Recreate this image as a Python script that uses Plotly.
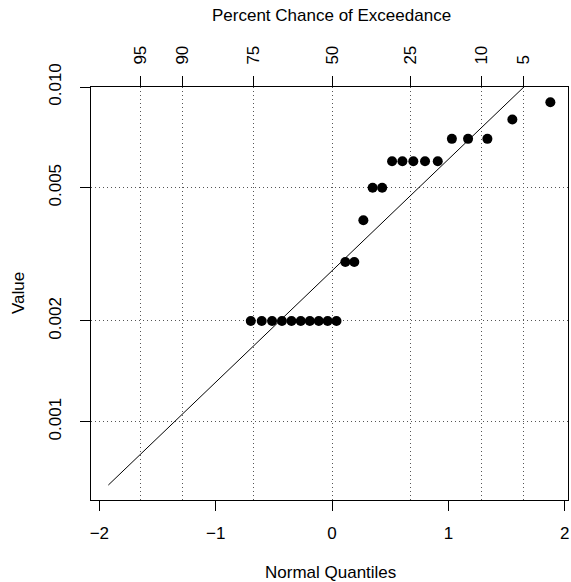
from statistics import NormalDist
import plotly.graph_objects as go

# ---- data ----
n_total = 32            # total observations (ranks 1-7 not shown)
first_rank = 8
values = [0.002, 0.002, 0.002, 0.002, 0.002, 0.002, 0.002, 0.002, 0.002, 0.002,
          0.003, 0.003, 0.004, 0.005, 0.005,
          0.006, 0.006, 0.006, 0.006, 0.006,
          0.007, 0.007, 0.007, 0.008, 0.009]
fit_mu_log10 = -2.549
fit_sigma_log10 = 0.333
fit_x_ends = [-1.923, 1.876]
exceed_pct = [95, 90, 75, 50, 25, 10, 5]
x_ticks = [-2, -1, 0, 1, 2]
x_ticktext = ["\u22122", "\u22121", "0", "1", "2"]
y_ticks = [0.001, 0.002, 0.005, 0.010]
y_ticktext = ["0.001", "0.002", "0.005", "0.010"]

nd = NormalDist()
ranks = list(range(first_rank, first_rank + len(values)))
qx = [nd.inv_cdf(r / (n_total + 1)) for r in ranks]
line_y = [10 ** (fit_mu_log10 + fit_sigma_log10 * x) for x in fit_x_ends]
exceed_x = [nd.inv_cdf(1 - p / 100) for p in exceed_pct]

FONT = "Liberation Sans, Arial, Helvetica, sans-serif"
FS = 17
W, H = 571, 582
L, R, T, B = 91, 3, 87, 82
pw, ph = W - L - R, H - T - B
xr = [-2.072, 2.028]
yr = [-3.234, -2.0]


def px_x(px):
    return (px - L) / pw


def px_y(py):
    return (H - B - py) / ph


GRID = "#555555"
DOT = "1px,3px"

fig = go.Figure()
fig.add_trace(go.Scatter(x=fit_x_ends, y=line_y, mode="lines",
                         line=dict(color="black", width=1), showlegend=False))
fig.add_trace(go.Scatter(x=qx, y=values, mode="markers",
                         marker=dict(color="black", size=10), showlegend=False))
fig.add_trace(go.Scatter(x=exceed_x, y=[None] * len(exceed_x), xaxis="x2",
                         mode="markers", showlegend=False, hoverinfo="skip"))

fig.update_layout(
    width=W, height=H,
    margin=dict(l=L, r=R, t=T, b=B),
    paper_bgcolor="white", plot_bgcolor="white",
    font=dict(family=FONT, size=FS, color="black"),
    xaxis=dict(range=xr, tickvals=x_ticks, ticktext=x_ticktext,
               ticks="outside", ticklen=10, tickcolor="black", tickwidth=1,
               showgrid=False, zeroline=False, showline=True, linecolor="black",
               linewidth=1, mirror=True, ticklabelstandoff=8),
    xaxis2=dict(range=xr, overlaying="x", side="top", tickvals=exceed_x,
                ticktext=[str(p) for p in exceed_pct], tickangle=-90,
                ticks="outside", ticklen=10, tickcolor="black", tickwidth=1,
                showgrid=True, gridcolor=GRID, griddash=DOT, gridwidth=1,
                zeroline=False, showline=False, ticklabelstandoff=8),
    yaxis=dict(type="log", range=yr, tickvals=y_ticks, ticktext=y_ticktext,
               tickangle=-90, ticks="outside", ticklen=10, tickcolor="black",
               tickwidth=1, showgrid=True, gridcolor=GRID, griddash=DOT,
               gridwidth=1, zeroline=False, showline=True, linecolor="black",
               linewidth=1, mirror=True, ticklabelstandoff=12),
    annotations=[
        dict(text="Normal Quantiles", x=px_x(330), y=px_y(572), xref="paper",
             yref="paper", xanchor="center", yanchor="middle", showarrow=False),
        dict(text="Percent Chance of Exceedance", x=px_x(331), y=px_y(16),
             xref="paper", yref="paper", xanchor="center", yanchor="middle",
             showarrow=False),
        dict(text="Value", x=px_x(18), y=px_y(293), xref="paper", yref="paper",
             xanchor="center", yanchor="middle", showarrow=False, textangle=-90),
    ],
)

fig.write_html("out.html")
